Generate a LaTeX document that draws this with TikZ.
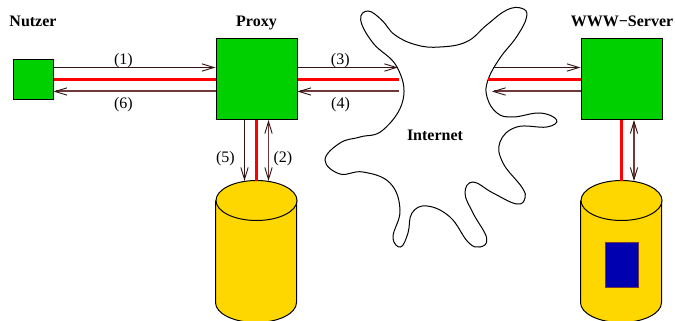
\documentclass[tikz,border=0pt]{standalone}
\usepackage{fontspec}
\setmainfont{Liberation Serif}
\usepackage{tikz}
\usetikzlibrary{arrows.meta}
\definecolor{boxgreen}{RGB}{0,208,0}
\definecolor{diskgold}{RGB}{255,215,0}
\definecolor{docblue}{RGB}{0,0,176}
\definecolor{darkline}{RGB}{50,20,20}
\definecolor{brownline}{RGB}{112,56,56}

\begin{document}
\begin{tikzpicture}[x=0.75pt,y=-0.75pt,>={Straight Barb[length=9pt,width=5.5pt,color=darkline,line width=0.7pt]},font=\fontsize{12}{14}\selectfont,
		line width=0.75pt]
		\tikzstyle{every box}=[draw,fill=boxgreen,inner sep=0pt]
		\tikzstyle{disk}=[minimum width=60.75pt,minimum height=106.5pt,inner sep=0pt]
		\tikzstyle{diskbody}=[draw,fill=diskgold]
		\tikzstyle{title}=[font=\fontsize{12}{14}\selectfont\bfseries,anchor=base]
		\tikzstyle{redline}=[red,line width=2.25pt]
		\tikzstyle{outline}=[darkline,line width=1.1pt]
		\tikzstyle{backline}=[brownline,line width=1.5pt]
		
		\useasboundingbox (0,0) rectangle (675,321);
		
		\node[every box,minimum size=30pt] (nutzer) at (33,80) {};
		\node[every box,minimum size=60.75pt] (proxy) at (256.5,79.5) {};
		\node[every box,minimum size=60.75pt] (server) at (621.5,79.5) {};
		\node[disk] (cache) at (256.5,252) {};
		\node[disk] (store) at (621.5,252) {};
		
		\draw[diskbody] (cache.north west) ++(0,20) -- ++(0,102) arc[start angle=180,end angle=0,x radius=40.5,y radius=20] -- ++(0,-102);
		\draw[diskbody] (cache.north) ++(0,20) ellipse[x radius=40.5,y radius=20];
		\draw[diskbody] (store.north west) ++(0,20) -- ++(0,102) arc[start angle=180,end angle=0,x radius=40.5,y radius=20] -- ++(0,-102);
		\draw[diskbody] (store.north) ++(0,20) ellipse[x radius=40.5,y radius=20];
		\node[fill=docblue,draw=brownline,line width=0.5pt,minimum width=24.75pt,minimum height=33.75pt,inner sep=0pt] (page) at (621.5,264.5) {};
		
		% das Internet
		\draw plot[smooth cycle,tension=0.7] coordinates {
			(360.7,20) (368,11) (381.7,20) (395,35) (416.7,45) (440,47) (466.7,41.7)
			(486.7,25) (506.7,10) (521.7,8.3) (526.7,16.7) (516.7,36.7) (500,58) (488,80)
			(487,97) (497,113) (513,117) (540,113) (556.7,120) (546.7,127) (516.7,127)
			(500,142) (503,163) (521.7,187) (525,198) (516.7,204) (493,193) (473,182)
			(465,193) (473,213) (486.7,238) (480,247) (468,242) (450,217) (427,206)
			(412,213) (408,233) (400.7,247) (393,237) (400,210) (390,183) (363,172)
			(340,174) (325,160) (340,143) (360,137) (383,130) (403,100) (397,67) (373,43)};
		\node[title] (internet) at (435,141) {Internet};
		
		\node[title] (nutzertitle) at (33,27) {Nutzer};
		\node[title] (proxytitle) at (256.5,27) {Proxy};
		\node[title] (servertitle) at (622,27) {WWW−Server};
		
		\coordinate (inA) at (398,67.5);
		\coordinate (inB) at (398.5,79.5);
		\coordinate (inC) at (398.5,91.5);
		\coordinate (outA) at (493,67.5);
		\coordinate (outB) at (488,79.5);
		\coordinate (outC) at (492,91.5);
		
		\draw[->,outline] (nutzer.east |- 0,67.5) -- node[above,black,pos=0.432,yshift=-4.2pt] (l1) {(1)} (proxy.west |- 0,67.5);
		\draw[redline] (nutzer.east |- 0,79.5) -- (proxy.west |- 0,79.5);
		\draw[<-,backline] (nutzer.east |- 0,91.5) -- node[below,black,pos=0.432,yshift=-0.5pt] (l6) {(6)} (proxy.west |- 0,91.5);
		
		\draw[->,outline] (proxy.east |- inA) -- node[above,black,pos=0.426,yshift=-4.2pt] (l3) {(3)} (inA);
		\draw[redline] (proxy.east |- inB) -- (inB);
		\draw[<-,backline] (proxy.east |- inC) -- node[below,black,pos=0.426,yshift=-0.5pt] (l4) {(4)} (inC);
		
		\draw[->,outline] (outA) -- (server.west |- outA);
		\draw[redline] (outB) -- (server.west |- outB);
		\draw[<-,backline] (outC) -- (server.west |- outC);
		
		\draw[->,outline] (244.5,120) -- node[left,black,pos=0.64,xshift=-3.5pt] (l5) {(5)} (244.5,181);
		\draw[redline] (proxy.south) -- (cache.north);
		\draw[<->,backline,line width=1pt] (268.5,120) -- node[right,black,pos=0.64] (l2) {(2)} (268.5,181);
		
		\draw[redline] (server.south) -- (store.north);
		\draw[<->,backline,line width=1pt] (634,120) -- (634,181);
		\end{tikzpicture}
\end{document}
